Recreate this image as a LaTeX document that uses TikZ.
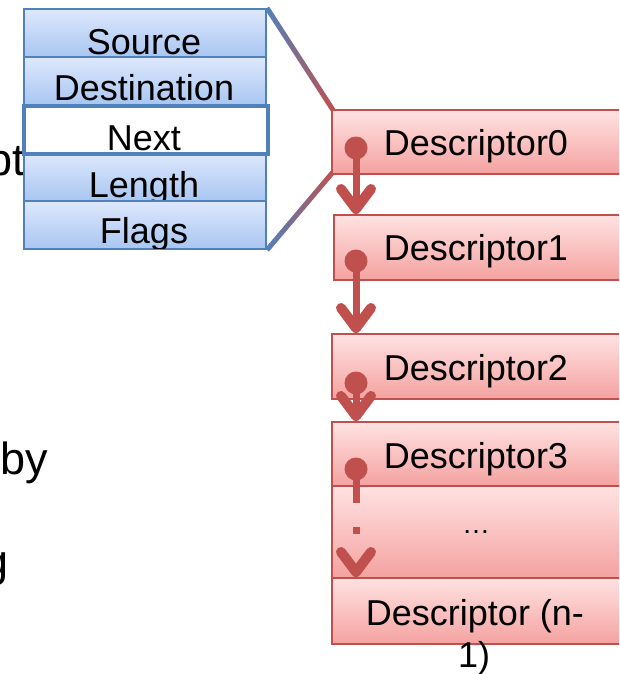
\documentclass[tikz,border=0pt]{standalone}
\usepackage{fontspec}
\setmainfont{Liberation Sans}
\usetikzlibrary{arrows.meta,calc}
\definecolor{redline}{RGB}{192,80,77}
\definecolor{redtop}{RGB}{255,226,226}
\definecolor{redbot}{RGB}{244,162,160}
\definecolor{bluetop}{RGB}{222,232,252}
\definecolor{bluebot}{RGB}{168,198,242}
\definecolor{blueline}{RGB}{79,129,189}
\begin{document}
\begin{tikzpicture}[x=1pt,y=-1pt,
  rowbox/.style={draw=blueline, line width=2pt, top color=bluetop, bottom color=bluebot,
    minimum width=242pt, minimum height=48pt, anchor=north west, inner sep=0pt},
  nextbox/.style={draw=blueline, line width=4pt, fill=white,
    minimum width=244pt, minimum height=48pt, anchor=north west, inner sep=0pt},
  descbox/.style={draw=redline, line width=2pt, top color=redtop, bottom color=redbot,
    minimum width=330pt, anchor=north west, inner sep=0pt},
  txt/.style={anchor=base, inner sep=0pt, font=\fontsize{36}{43}\selectfont},
  bigtxt/.style={inner sep=0pt, font=\fontsize{45}{54}\selectfont},
  dotnode/.style={circle, fill=redline, minimum size=23pt, inner sep=0pt},
  link/.style={draw=redline, line width=7pt, -{Straight Barb[length=20pt,width=30pt,line width=10pt,round]}},
]
\useasboundingbox (0,0) rectangle (619,674);
\clip (0,0) rectangle (619,674);

% left text fragments
\node[bigtxt, anchor=base east] (frag1) at (25,175) {pt};
\node[bigtxt, anchor=base west] (frag2) at (0,474) {by};
\node[bigtxt, anchor=base east] (frag3) at (9,576) {g};

% left field boxes
\node[rowbox] (src) at (23,8) {};
\begin{scope}\clip (23,8) rectangle (265,56);
\node[txt] (tsrc) at (144,55) {Source};\end{scope}
\node[rowbox] (dst) at (23,56) {};
\begin{scope}\clip (23,56) rectangle (265,104);
\node[txt] (tdst) at (144,101) {Destination};\end{scope}
\node[rowbox] (len) at (23,152) {};
\node[txt] (tlen) at (144,197) {Length};
\node[rowbox] (flg) at (23,200) {};
\begin{scope}\clip (23,200) rectangle (265,248);
\node[txt] (tflg) at (144,243) {Flags};\end{scope}
\node[nextbox] (nxt) at (22,104) {};
\node[txt] (tnxt) at (144,150) {Next};

% gradient connectors
\coordinate (a1) at (src.north east);
\coordinate (b1) at (333,110);
\coordinate (a2) at (flg.south east);
\coordinate (b2) at (333,172);
\shade[left color=blueline, right color=redline]
  ($(a1)!2.5pt!90:(b1)$) -- ($(a1)!2.5pt!-90:(b1)$) -- ($(b1)!2.5pt!90:(a1)$) -- ($(b1)!2.5pt!-90:(a1)$) -- cycle;
\shade[left color=blueline, right color=redline]
  ($(a2)!2.5pt!90:(b2)$) -- ($(a2)!2.5pt!-90:(b2)$) -- ($(b2)!2.5pt!90:(a2)$) -- ($(b2)!2.5pt!-90:(a2)$) -- cycle;

% descriptor boxes
\node[descbox, minimum height=64pt] (d0) at (331,109) {};
\node[descbox, minimum height=65pt] (d1) at (333,214) {};
\node[descbox, minimum height=65pt] (d2) at (331,333) {};
\node[descbox, minimum height=64pt] (d3) at (331,421) {};
\node[descbox, minimum height=92pt] (dd) at (331,485) {};
\node[descbox, minimum height=66pt] (dn) at (331,577) {};

\node[txt] (t0) at (476,155) {Descriptor0};
\node[txt] (t1) at (476,260) {Descriptor1};
\node[txt] (t2) at (476,380) {Descriptor2};
\node[txt] (t3) at (476,468) {Descriptor3};
\node[txt, font=\fontsize{28}{32}\selectfont] (tdd) at (476,533) {…};
\node[txt] (tn1) at (475,625) {Descriptor (n-};
\node[txt] (tn2) at (474,667) {1)};

% next pointers
\node[dotnode] (p0) at (356,148) {};
\node[dotnode] (p1) at (356,261) {};
\node[dotnode] (p2) at (356,383) {};
\node[dotnode] (p3) at (356,469) {};
\draw[link] (p0.center) -- (p0 |- d1.north);
\draw[link] (p1.center) -- (p1 |- d2.north);
\draw[link] (p2.center) -- (p2 |- d3.north);
\draw[link, dash pattern=on 34pt off 24pt on 7pt off 200pt] (p3.center) -- (p3 |- dn.north);
\end{tikzpicture}
\end{document}
